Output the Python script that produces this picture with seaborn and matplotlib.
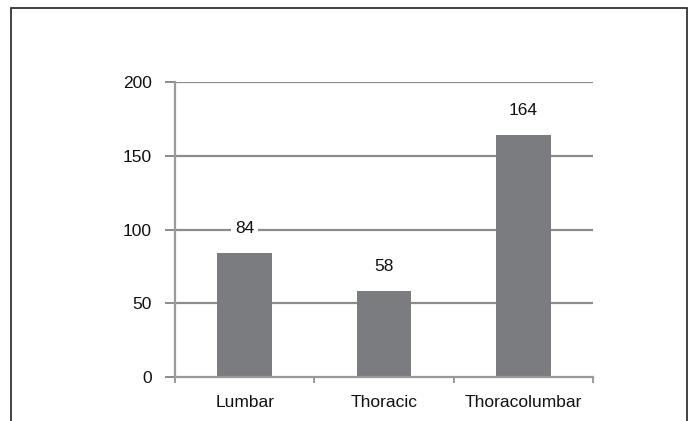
import matplotlib
matplotlib.use("Agg")
import matplotlib.pyplot as plt
from matplotlib.patches import Rectangle
import seaborn as sns
import pandas as pd

categories = ["Lumbar", "Thoracic", "Thoracolumbar"]
counts = [84, 58, 164]
y_ticks = [0, 50, 100, 150, 200]

sns.set_theme(style="white")
plt.rcParams["font.family"] = ["Liberation Sans", "DejaVu Sans"]

df = pd.DataFrame({"region": categories, "count": counts})

fig = plt.figure(figsize=(6.91, 4.21), dpi=100)
W, H = 691, 421
ax = fig.add_axes([175 / W, 44 / H, 418 / W, 295 / H])

grid_col = "#8c8c8c"
bar_col = "#7b7c7f"

sns.barplot(data=df, x="region", y="count", color=bar_col, saturation=1,
            width=0.39, linewidth=0, edgecolor=bar_col, ax=ax, zorder=3)

ax.set_xlim(-0.5, len(categories) - 0.5)
ax.set_ylim(0, 200)
ax.set_yticks(y_ticks)
ax.set_yticklabels([str(t) for t in y_ticks])
ax.set_xlabel("")
ax.set_ylabel("")

for t in y_ticks[1:]:
    ax.axhline(t, color=grid_col, lw=1.6, zorder=1)

for side in ["top", "right"]:
    ax.spines[side].set_visible(False)
for side in ["left", "bottom"]:
    ax.spines[side].set_color("#9a9a9a")
    ax.spines[side].set_linewidth(1.6)
    ax.spines[side].set_zorder(4)

ax.tick_params(axis="y", left=True, length=7.5, width=1.4, color=grid_col,
               pad=9, labelsize=12.5, labelcolor="#111111", direction="out")
ax.tick_params(axis="x", which="major", bottom=True, length=0, pad=13,
               labelsize=12.5, labelcolor="#111111")
ax.set_xticks([i - 0.5 for i in range(len(categories) + 1)], minor=True)
ax.tick_params(axis="x", which="minor", bottom=True, length=4, width=1.4,
               color="#9a9a9a", direction="out")

for i, v in enumerate(counts):
    ax.text(i, v + 17, str(v), ha="center", va="center", fontsize=12.5,
            color="#111111", zorder=5,
            bbox=dict(facecolor="white", edgecolor="none", pad=3))

fig.patches.append(Rectangle((11 / W, -0.05), 676 / W, 1.05 - 8 / H,
                             transform=fig.transFigure, fill=False,
                             edgecolor="#333333", lw=1.3))

fig.savefig("out.png", dpi=100)
